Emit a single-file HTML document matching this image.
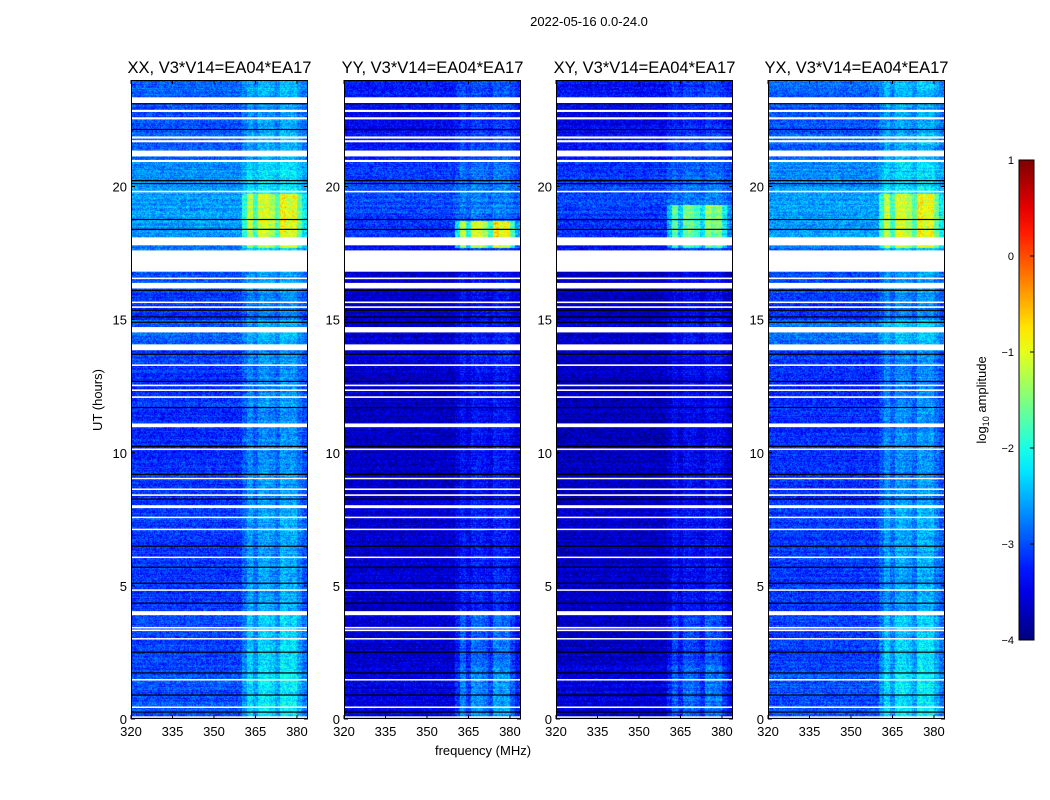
<!DOCTYPE html>
<html><head><meta charset="utf-8"><style>
body{margin:0;background:#fff;width:1050px;height:800px;position:relative;overflow:hidden;font-family:"Liberation Sans",sans-serif;}
.t{position:absolute;white-space:nowrap;color:#000;}
canvas{position:absolute;}
</style></head><body>
<div class="t" style="left:489px;top:14px;font-size:13px;width:200px;text-align:center;">2022-05-16 0.0-24.0</div>
<svg id="ax" width="1050" height="800" style="position:absolute;left:0;top:0"></svg>
<script>
const panelNames=["XX, V3*V14=EA04*EA17","YY, V3*V14=EA04*EA17","XY, V3*V14=EA04*EA17","YX, V3*V14=EA04*EA17"];
const freqTicks=[320,335,350,365,380];
const hourTicks=[0,5,10,15,20];
const cbTicks=[1,0,-1,-2,-3,-4];
const rowBaseXX=[-3.0,-3.0,-3.05,-3.05,-3.1,-3.1,-3.1,-3.1,-3.15,-3.15,-3.15,-3.15,-3.2,-3.1,-2.9,-3.15,-3.0,-2.8,-2.6,-2.6,-2.7,-2.9,-3.0,-2.9];
const rowBaseYY=[-3.5,-3.5,-3.6,-3.6,-3.6,-3.6,-3.6,-3.6,-3.65,-3.65,-3.65,-3.65,-3.65,-3.6,-3.6,-3.65,-3.6,-3.4,-3.1,-3.0,-3.1,-3.3,-3.4,-3.3];
const rowBaseXY=[-3.55,-3.55,-3.65,-3.65,-3.65,-3.65,-3.65,-3.65,-3.7,-3.7,-3.7,-3.7,-3.7,-3.65,-3.6,-3.7,-3.65,-3.4,-3.15,-3.05,-3.15,-3.35,-3.45,-3.35];
const rowBaseYX=[-3.0,-3.0,-3.05,-3.05,-3.1,-3.1,-3.1,-3.1,-3.15,-3.15,-3.15,-3.15,-3.2,-3.1,-2.85,-3.15,-3.0,-2.8,-2.6,-2.6,-2.7,-2.9,-3.0,-2.9];
const bandGainXX=[1.1,1.1,1.1,1.0,0.8,0.8,0.8,0.8,0.75,0.7,0.7,0.7,0.7,0.6,0.6,0.6,0.6,0.7,0.6,0.6,0.6,0.6,0.6,0.6];
const bandGainYY=[1.2,1.2,1.1,1.0,0.6,0.5,0.5,0.5,0.5,0.5,0.5,0.5,0.45,0.45,0.45,0.4,0.4,0.4,0.4,0.4,0.4,0.45,0.45,0.45];
const bandGainXY=[1.0,1.0,0.9,0.9,0.5,0.45,0.45,0.45,0.45,0.45,0.45,0.45,0.4,0.4,0.4,0.4,0.4,0.4,0.4,0.4,0.4,0.4,0.4,0.4];
const bandGainYX=[1.1,1.1,1.1,1.0,0.8,0.8,0.8,0.8,0.75,0.7,0.7,0.7,0.7,0.6,0.6,0.6,0.6,0.7,0.6,0.6,0.6,0.6,0.6,0.6];
const colBoost=[0,0,0,0,0,0,0,0,0,0,0,0,0,0,0,0,0,0,0,0,0.3,0.65,0.35,0.7,0.7,0.6,0.4,0.8,0.7,0.75,0.45,0.2];
const flareStart=[17.7,17.7,17.7,17.7];
const flareEnd=[19.7,18.7,19.3,19.7];
const flareGain=[1.6,2.6,1.8,1.6];
const whiteFlags=[[23.1,23.35],[22.8,22.88],[22.52,22.6],[21.8,21.88],[21.66,21.74],[21.13,21.35],[20.92,21.0],[19.78,19.84],[17.79,18.09],[16.8,17.6],[16.52,16.58],[16.17,16.38],[15.62,15.68],[15.44,15.5],[14.52,14.72],[13.85,14.07],[13.26,13.32],[12.5,12.56],[12.32,12.38],[12.06,12.12],[10.96,11.1],[10.1,10.16],[9.02,9.06],[8.6,8.66],[8.38,8.44],[7.92,8.03],[7.56,7.6],[7.1,7.15],[6.06,6.1],[4.82,4.87],[3.9,4.05],[3.4,3.46],[3.3,3.36],[3.0,3.04],[1.45,1.5],[0.43,0.47],[0.06,0.1]];
const blackFlags=[23.11,22.14,20.22,20.11,18.76,18.39,16.1,15.35,15.1,14.9,13.7,12.68,11.7,10.24,9.19,8.26,6.49,5.7,5.1,4.35,2.51,1.73,0.9,0.26];

const rowBases=[rowBaseXX,rowBaseYY,rowBaseXY,rowBaseYX];
const bandGains=[bandGainXX,bandGainYY,bandGainXY,bandGainYX];
const panelX=[131,344,556,768], PW=177, PT=80, PB=719, PH=PB-PT;
const fMin=320,fMax=384,hMin=0,hMax=24;
const xScale=(i,f)=>panelX[i]+(f-fMin)/(fMax-fMin)*PW;
const yScale=h=>PB-(h-hMin)/(hMax-hMin)*PH;
function jet(v){
  const r=Math.min(Math.max(Math.min(4*v-1.5,-4*v+4.5),0),1);
  const g=Math.min(Math.max(Math.min(4*v-0.5,-4*v+3.5),0),1);
  const b=Math.min(Math.max(Math.min(4*v+0.5,-4*v+2.5),0),1);
  return [r*255|0,g*255|0,b*255|0];
}
function hash(x,y){let h=(x*374761393+y*668265263)|0;h=(h^(h>>>13))*1274126177|0;return ((h^(h>>>16))>>>0)/4294967296;}
const svgNS="http://www.w3.org/2000/svg";
const svg=document.getElementById('ax');
function mk(tag,attrs,name,parent){const e=document.createElementNS(svgNS,tag);for(const k in attrs)e.setAttribute(k,attrs[k]);


(parent||svg).appendChild(e);return e;}
for(let p=0;p<4;p++){
  const cv=document.createElement('canvas');cv.width=PW;cv.height=PH;
  cv.style.left=panelX[p]+'px';cv.style.top=PT+'px';
  
  
  document.body.insertBefore(cv,svg);
  const ctx=cv.getContext('2d');const img=ctx.createImageData(PW,PH);
  for(let py=0;py<PH;py++){
    const h=hMax-(py+0.5)/PH*(hMax-hMin);
    const hb=Math.min(23,Math.floor(h));
    for(let px=0;px<PW;px++){
      const f=fMin+(px+0.5)/PW*(fMax-fMin);
      const fb=Math.min(colBoost.length-1,Math.floor((f-fMin)/2));
      let v=rowBases[p][hb]+colBoost[fb]*bandGains[p][hb];
      if(h>=flareStart[p]&&h<=flareEnd[p]) v+=colBoost[fb]*flareGain[p];
      v+=(hash(px+p*1000,py)-0.5)*0.7+(hash(7,py+p*3000)-0.5)*0.25;
      const c=jet(Math.min(1,Math.max(0,(v+4)/5)));
      const k=(py*PW+px)*4;img.data[k]=c[0];img.data[k+1]=c[1];img.data[k+2]=c[2];img.data[k+3]=255;
    }
  }
  ctx.putImageData(img,0,0);
  const g=mk('g',{},'panel-'+p);
  whiteFlags.forEach(w=>{const y1=yScale(w[1]),y2=yScale(w[0]);
    mk('rect',{x:panelX[p],y:y1,width:PW,height:Math.max(1.5,y2-y1),fill:'#fff'},'flagged-row',g);});
  blackFlags.forEach(b=>{mk('rect',{x:panelX[p],y:yScale(b)-0.6,width:PW,height:1.2,fill:'#000'},'flag-line',g);});
  mk('rect',{x:panelX[p]+0.5,y:PT+0.5,width:PW-1,height:PH-1,fill:'none',stroke:'#000','stroke-width':1},'panel-frame',g);
  const tt=mk('text',{x:panelX[p]+PW/2,y:PT-7,'text-anchor':'middle','font-size':16.5,'font-family':'Liberation Sans, sans-serif'},'panel-title',g);tt.textContent=panelNames[p];
  freqTicks.forEach(f=>{const x=xScale(p,f);
    mk('line',{x1:x,x2:x,y1:PB,y2:PB-4,stroke:'#000'},'x-tick',g);
    mk('line',{x1:x,x2:x,y1:PT,y2:PT+4,stroke:'#000'},'x-tick',g);
    const t=mk('text',{x:x,y:PB+17,'text-anchor':'middle','font-size':13,'font-family':'Liberation Sans, sans-serif'},'x-tick-label',g);t.textContent=f;});
  hourTicks.forEach(h=>{const y=yScale(h);
    mk('line',{x1:panelX[p],x2:panelX[p]+4,y1:y,y2:y,stroke:'#000'},'y-tick',g);
    mk('line',{x1:panelX[p]+PW,x2:panelX[p]+PW-4,y1:y,y2:y,stroke:'#000'},'y-tick',g);
    const t=mk('text',{x:panelX[p]-4,y:y+5,'text-anchor':'end','font-size':13,'font-family':'Liberation Sans, sans-serif'},'y-tick-label',g);t.textContent=h;});
}
const xl=mk('text',{x:483,y:755,'text-anchor':'middle','font-size':13,'font-family':'Liberation Sans, sans-serif'},'x-axis-title');xl.textContent='frequency (MHz)';
const yl=mk('text',{x:0,y:0,transform:'translate(102,400) rotate(-90)','text-anchor':'middle','font-size':13,'font-family':'Liberation Sans, sans-serif'},'y-axis-title');yl.textContent='UT (hours)';
const CX=1019,CW=15,CT=160,CB=640;
const defs=mk('defs',{},'defs');
const lg=mk('linearGradient',{id:'jg',x1:0,y1:1,x2:0,y2:0},'colorbar-gradient',defs);
for(let i=0;i<=20;i++){const c=jet(i/20);mk('stop',{offset:(i/20),'stop-color':`rgb(${c[0]},${c[1]},${c[2]})`},'gradient-stop',lg);}
mk('rect',{x:CX,y:CT,width:CW,height:CB-CT,fill:'url(#jg)',stroke:'#000','stroke-width':1},'colorbar');
cbTicks.forEach(v=>{const y=CB-(v+4)/5*(CB-CT);
  mk('line',{x1:CX+CW-4,x2:CX+CW,y1:y,y2:y,stroke:'#000'},'colorbar-tick');
  const t=mk('text',{x:CX-5,y:y+4,'text-anchor':'end','font-size':11,'font-family':'Liberation Sans, sans-serif'},'colorbar-tick-label');t.textContent=v<0?'\u2212'+(-v):v;});
const cl=mk('text',{x:0,y:0,transform:'translate(986,400) rotate(-90)','text-anchor':'middle','font-size':13,'font-family':'Liberation Sans, sans-serif'},'colorbar-title');
cl.innerHTML='log<tspan font-size="9" dy="3">10</tspan><tspan dy="-3"> amplitude</tspan>';
</script>
</body></html>
